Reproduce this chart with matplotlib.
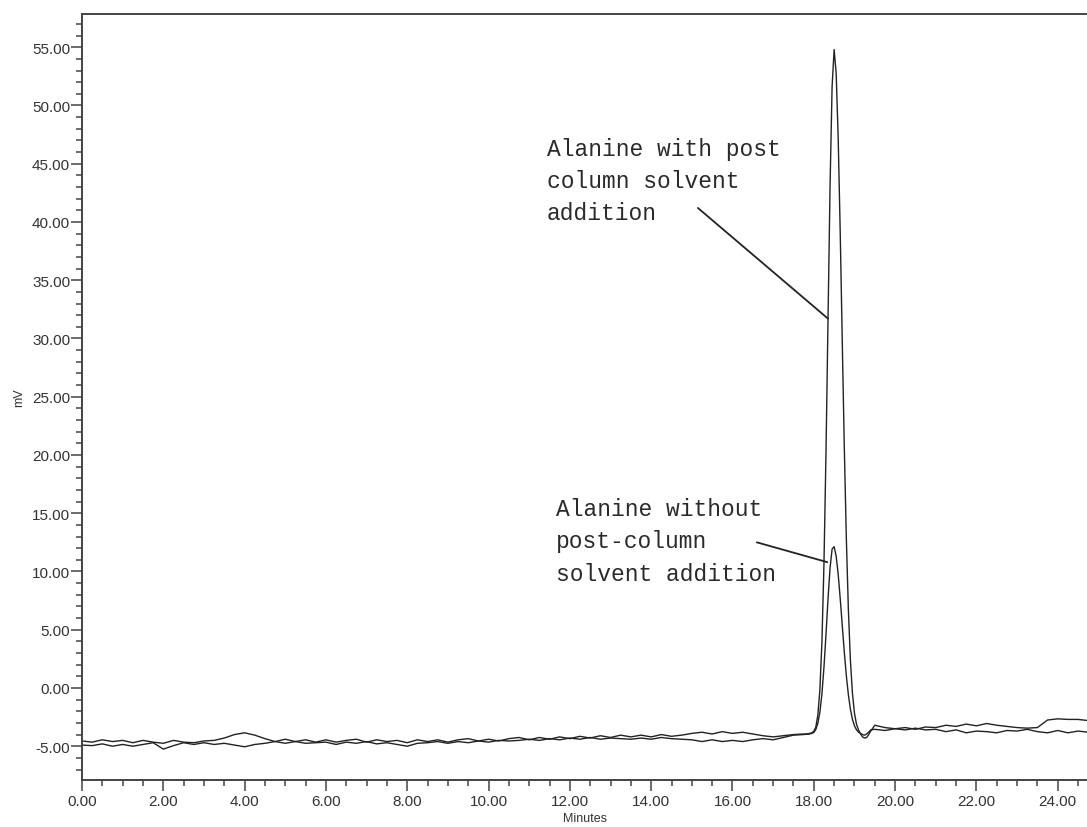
"""Alanine chromatogram: with and without post-column solvent addition."""

import numpy as np
import matplotlib
matplotlib.use('Agg')
from matplotlib import pyplot as plt
from matplotlib import ticker

plt.rcParams['font.family'] = ['Liberation Sans', 'DejaVu Sans']

# ---- retention time axis (min) ----
baseline_minutes = [
    0.00, 0.25, 0.50, 0.75, 1.00, 1.25, 1.50, 1.75,
    2.00, 2.25, 2.50, 2.75, 3.00, 3.25, 3.50, 3.75,
    4.00, 4.25, 4.50, 4.75, 5.00, 5.25, 5.50, 5.75,
    6.00, 6.25, 6.50, 6.75, 7.00, 7.25, 7.50, 7.75,
    8.00, 8.25, 8.50, 8.75, 9.00, 9.25, 9.50, 9.75,
    10.00, 10.25, 10.50, 10.75, 11.00, 11.25, 11.50, 11.75,
    12.00, 12.25, 12.50, 12.75, 13.00, 13.25, 13.50, 13.75,
    14.00, 14.25, 14.50, 14.75, 15.00, 15.25, 15.50, 15.75,
    16.00, 16.25, 16.50, 16.75, 17.00, 17.25, 17.50, 17.75,
]
peak_minutes = [
    17.80, 17.85, 17.90, 17.95, 18.00, 18.05, 18.10, 18.15,
    18.20, 18.25, 18.30, 18.35, 18.40, 18.45, 18.50, 18.55,
    18.60, 18.65, 18.70, 18.75, 18.80, 18.85, 18.90, 18.95,
    19.00, 19.05, 19.10, 19.15, 19.20, 19.25, 19.30, 19.35,
    19.40,
]
tail_minutes = [
    19.50, 19.75, 20.00, 20.25, 20.50, 20.75, 21.00, 21.25,
    21.50, 21.75, 22.00, 22.25, 22.50, 22.75, 23.00, 23.25,
    23.50, 23.75, 24.00, 24.25, 24.50, 24.75,
]

# ---- detector signal (mV), with post-column solvent ----
with_pcs_baseline = [
    -4.55, -4.65, -4.45, -4.60, -4.50, -4.70, -4.50, -4.65,
    -4.75, -4.50, -4.65, -4.70, -4.55, -4.50, -4.30, -4.00,
    -3.85, -4.05, -4.35, -4.60, -4.40, -4.60, -4.45, -4.65,
    -4.45, -4.65, -4.50, -4.40, -4.65, -4.45, -4.60, -4.50,
    -4.70, -4.45, -4.60, -4.45, -4.65, -4.45, -4.35, -4.55,
    -4.40, -4.55, -4.35, -4.25, -4.45, -4.25, -4.40, -4.20,
    -4.35, -4.15, -4.30, -4.10, -4.25, -4.05, -4.20, -4.05,
    -4.20, -4.00, -4.15, -4.05, -3.90, -3.80, -3.95, -3.75,
    -3.90, -3.80, -3.95, -4.10, -4.20, -4.10, -4.00, -3.95,
]
with_pcs_peak = [
    -3.95, -3.93, -3.90, -3.85, -3.72, -3.35, -2.32, -0.14,
    3.96, 10.66, 20.20, 31.66, 43.10, 51.60, 54.80, 52.80,
    47.20, 39.10, 29.80, 20.70, 12.90, 6.77, 2.41, -0.44,
    -2.16, -3.11, -3.60, -3.95, -4.20, -4.30, -4.25, -4.00,
    -3.70,
]
with_pcs_tail = [
    -3.20, -3.40, -3.50, -3.40, -3.55, -3.35, -3.40, -3.20,
    -3.30, -3.10, -3.25, -3.05, -3.20, -3.30, -3.40, -3.45,
    -3.40, -2.75, -2.65, -2.70, -2.70, -2.80,
]

# ---- detector signal (mV), without post-column solvent ----
without_pcs_baseline = [
    -4.90, -4.95, -4.80, -5.00, -4.85, -5.00, -4.85, -4.70,
    -5.25, -4.95, -4.70, -4.85, -4.70, -4.85, -4.75, -4.90,
    -5.05, -4.85, -4.75, -4.60, -4.75, -4.60, -4.75, -4.70,
    -4.65, -4.85, -4.65, -4.75, -4.60, -4.80, -4.70, -4.85,
    -5.00, -4.75, -4.70, -4.60, -4.75, -4.60, -4.70, -4.55,
    -4.65, -4.50, -4.55, -4.50, -4.40, -4.50, -4.35, -4.45,
    -4.30, -4.40, -4.25, -4.40, -4.30, -4.35, -4.40, -4.30,
    -4.40, -4.25, -4.35, -4.40, -4.45, -4.60, -4.45, -4.60,
    -4.50, -4.60, -4.45, -4.35, -4.45, -4.25, -4.05, -4.00,
]
without_pcs_peak = [
    -3.98, -3.97, -3.95, -3.90, -3.82, -3.56, -3.03, -2.07,
    -0.50, 1.77, 4.60, 7.65, 10.30, 11.92, 12.13, 11.32,
    9.76, 7.67, 5.36, 3.09, 1.07, -0.57, -1.81, -2.68,
    -3.25, -3.59, -3.79, -3.90, -4.00, -4.05, -3.95, -3.80,
    -3.60,
]
without_pcs_tail = [
    -3.55, -3.65, -3.50, -3.60, -3.45, -3.60, -3.55, -3.75,
    -3.60, -3.85, -3.70, -3.75, -3.85, -3.65, -3.70, -3.55,
    -3.75, -3.85, -3.65, -3.85, -3.70, -3.80,
]

label_with = 'Alanine with post\ncolumn solvent\naddition'
label_without = 'Alanine without\npost-column\nsolvent addition'

minutes = np.array(baseline_minutes + peak_minutes + tail_minutes)
mv_with = np.array(with_pcs_baseline + with_pcs_peak + with_pcs_tail)
mv_without = np.array(without_pcs_baseline + without_pcs_peak + without_pcs_tail)

W, H = 1087, 828
fig = plt.figure(figsize=(W / 100, H / 100), dpi=100)
ax = fig.add_axes([82 / W, 1 - 781 / H, (W - 82) / W, (781 - 15) / H])

trace_color = '#222222'
ax.plot(minutes, mv_without, color=trace_color, lw=1.0)
ax.plot(minutes, mv_with, color=trace_color, lw=1.0)

ax.set_xlim(0, 24.72)
ax.set_ylim(-7.9, 57.85)

# axis frame: no right side, the trace runs off the edge
spine_color = '#444444'
for side in ('left', 'bottom', 'top'):
    ax.spines[side].set_color(spine_color)
    ax.spines[side].set_linewidth(1.4)
ax.spines['right'].set_visible(False)

ax.xaxis.set_major_locator(ticker.MultipleLocator(2))
ax.xaxis.set_minor_locator(ticker.MultipleLocator(0.5))
ax.yaxis.set_major_locator(ticker.MultipleLocator(5))
ax.yaxis.set_minor_locator(ticker.MultipleLocator(1))
ax.xaxis.set_major_formatter(ticker.FormatStrFormatter('%.2f'))
ax.yaxis.set_major_formatter(ticker.FormatStrFormatter('%.2f'))

ax.tick_params(which='major', direction='out', length=8, width=1.1,
               color=spine_color, labelsize=11, labelcolor='#333333')
ax.tick_params(which='minor', direction='out', length=4, width=1.1,
               color=spine_color)
ax.tick_params(axis='y', which='major', pad=0.5)
ax.tick_params(axis='x', which='major', pad=2)
ax.tick_params(top=False, right=False, which='both')

ax.set_xlabel('Minutes', fontsize=9, color='#333333', labelpad=3)
ax.set_ylabel('mV', fontsize=9, color='#333333', labelpad=5)

# peak annotations; y is the baseline of the last text line
mono = dict(family=['Liberation Mono', 'DejaVu Sans Mono'], fontsize=16.5,
            color='#2a2a2a', linespacing=1.51, va='baseline', ha='left')
ax.text(11.44, 40.26, label_with, **mono)
ax.text(11.66, 9.3, label_without, **mono)

line_props = dict(arrowstyle='-', color='#222222', lw=1.3, shrinkA=0, shrinkB=0)
ax.annotate('', xy=(18.35, 31.7), xytext=(15.15, 41.2), arrowprops=line_props)
ax.annotate('', xy=(18.33, 10.8), xytext=(16.6, 12.5), arrowprops=line_props)

fig.savefig('out.png', dpi=100)
